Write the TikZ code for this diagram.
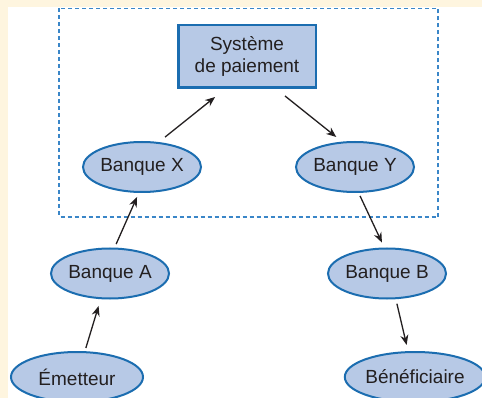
\documentclass[tikz,border=0pt]{standalone}
\usepackage{fontspec}
\setmainfont{Liberation Sans}
\usetikzlibrary{shapes.geometric,arrows.meta}
\definecolor{cream}{HTML}{FEF5DF}
\definecolor{fillblue}{HTML}{B7C9E6}
\definecolor{edgeblue}{HTML}{1B6DB0}
\definecolor{dashblue}{HTML}{3A86C8}
\definecolor{ink}{HTML}{231F20}
\tikzset{
  bank/.style={ellipse, draw=edgeblue, fill=fillblue, line width=2pt, inner sep=0pt,
    minimum width=116pt, minimum height=50pt, text=ink,
    font=\fontsize{19}{22}\selectfont},
  widebank/.style={bank, minimum width=132pt},
  sysbox/.style={rectangle, draw=edgeblue, fill=fillblue, line width=2.5pt, inner sep=0pt,
    minimum width=137.5pt, minimum height=62.5pt, text=ink, align=center,
    font=\fontsize{19}{22}\selectfont},
  flow/.style={draw=ink, line width=1.3pt, -{Stealth[length=10pt,width=8pt]}},
  frame/.style={draw=dashblue, line width=1.3pt, dash pattern=on 4pt off 3pt}
}
\begin{document}
\begin{tikzpicture}[x=1pt,y=-1pt]
\useasboundingbox (0,0) rectangle (482,398);
\fill[cream] (0,0) rectangle (482,398);
\fill[white] (7.5,7.5) rectangle (482,398);
\draw[frame] (59,8.5) rectangle (438,217);
\node[sysbox] (sys) at (247,56.5) {Système\\de paiement};
\node[bank] (bx) at (142,167) {Banque X};
\node[bank] (by) at (355,167) {Banque Y};
\node[bank, minimum width=117pt] (ba) at (110,273.5) {Banque A};
\node[bank, minimum width=118pt] (bb) at (387,273.5) {Banque B};
\node[widebank] (em) at (77,377) {Émetteur};
\node[widebank] (bf) at (415,377) {Bénéficiaire};
\draw[flow, shorten <=8pt, shorten >=12.8pt] (bx.56) -- (sys.236);
\draw[flow, shorten <=11.2pt, shorten >=7.4pt] (sys.312) -- (by.117);
\draw[flow, shorten <=3.9pt, shorten >=4.4pt] (ba.80) -- (bx.263);
\draw[flow, shorten <=3.3pt, shorten >=7.1pt] (em.73) -- (ba.250);
\draw[flow, shorten <=3.3pt, shorten >=5.5pt] (by.278) -- (bb.96);
\draw[flow, shorten <=4.6pt, shorten >=6.3pt] (bb.289) -- (bf.105);
\end{tikzpicture}
\end{document}
